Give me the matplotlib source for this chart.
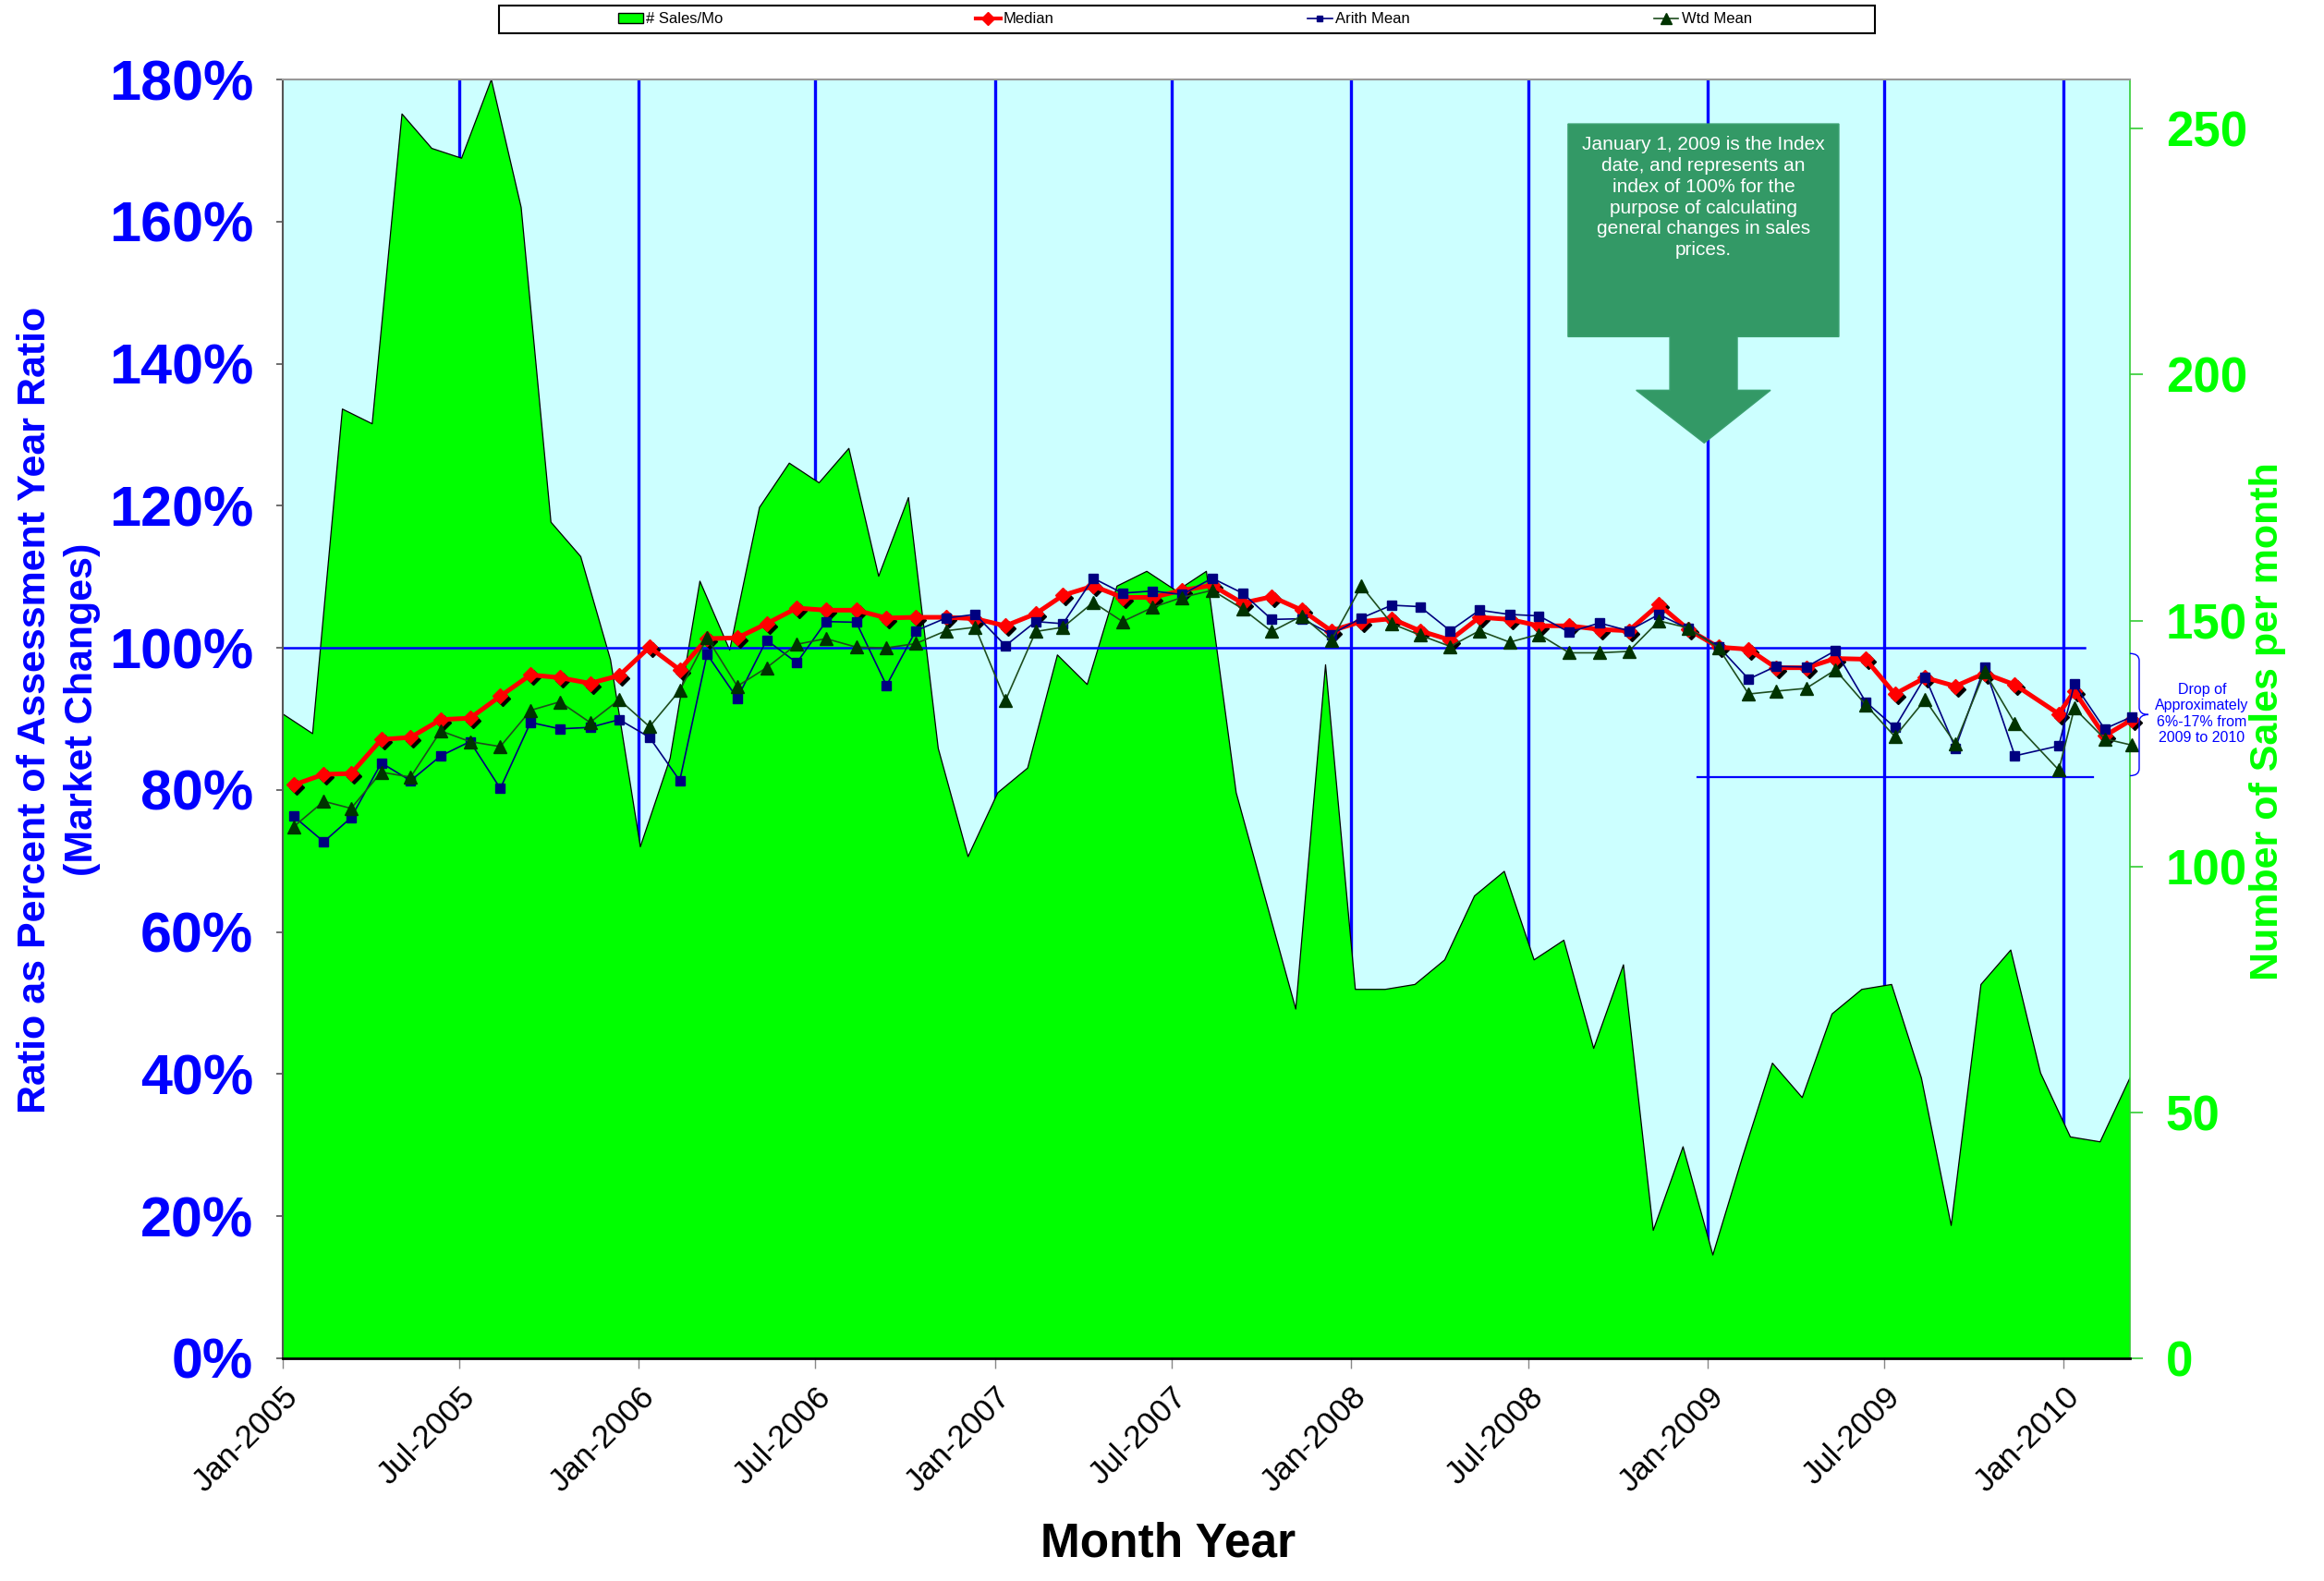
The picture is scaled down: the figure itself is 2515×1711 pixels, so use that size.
import numpy as np
import pandas as pd
import matplotlib
matplotlib.use('Agg')
import matplotlib.pyplot as plt
import matplotlib.dates as mdates
import matplotlib.transforms as mtransforms
from matplotlib.patches import Polygon, PathPatch, Rectangle, Patch
from matplotlib.path import Path
from matplotlib.lines import Line2D
from matplotlib.ticker import FuncFormatter

plt.rcParams['font.family'] = ['Liberation Sans', 'DejaVu Sans']

# number of sales per month, Jan-2005 .. Mar-2010
sales_per_month = [131, 127, 193, 190, 253, 246, 244, 260, 234, 170,
                   163, 142, 104, 122, 158, 144, 173, 182, 178, 185,
                   159, 175, 124, 102, 115, 120, 143, 137, 157, 160,
                   156, 160, 115, 93, 71, 141, 75, 75, 76, 81,
                   94, 99, 81, 85, 63, 80, 26, 43, 21, 41,
                   60, 53, 70, 75, 76, 57, 27, 76, 83, 58,
                   45, 44, 57]

# ratio as percent of assessment year ratio
median_ratio = [80.7, 82.2, 82.3, 87.1, 87.4, 89.9, 90.1, 93.2, 96.2, 95.8,
                95.0, 96.1, 100.1, 96.9, 101.3, 101.4, 103.4, 105.6, 105.3, 105.3,
                104.2, 104.3, 104.3, 104.1, 103.1, 104.8, 107.4, 108.7, 107.1, 107.1,
                108.1, 108.8, 106.3, 107.2, 105.3, 102.4, 103.7, 104.1, 102.4, 101.1,
                104.3, 104.0, 103.1, 103.1, 102.6, 102.4, 106.1, 102.6, 100.1, 99.8,
                97.2, 97.2, 98.5, 98.4, 93.5, 95.8, 94.6, 96.4, 94.8, 90.7,
                93.9, 87.6, 89.9]

arith_mean_ratio = [76.3, 72.7, 76.1, 83.8, 81.3, 84.8, 86.8, 80.2, 89.5, 88.6,
                    88.8, 89.9, 87.4, 81.3, 99.1, 92.9, 101.1, 97.9, 103.7, 103.6,
                    94.7, 102.4, 104.2, 104.7, 100.3, 103.7, 103.4, 109.8, 107.7, 108.0,
                    107.5, 109.8, 107.7, 104.0, 104.1, 101.9, 104.2, 106.0, 105.8, 102.4,
                    105.3, 104.7, 104.5, 102.2, 103.5, 102.4, 104.7, 102.7, 100.2, 95.6,
                    97.4, 97.3, 99.6, 92.4, 88.8, 95.9, 85.9, 97.3, 84.8, 86.2,
                    94.9, 88.6, 90.3]

wtd_mean_ratio = [74.8, 78.4, 77.4, 82.5, 81.8, 88.3, 86.8, 86.1, 91.2, 92.4,
                  89.5, 92.7, 88.9, 94.0, 101.4, 94.6, 97.2, 100.5, 101.3, 100.1,
                  100.0, 100.6, 102.4, 102.9, 92.6, 102.3, 102.9, 106.4, 103.7, 105.7,
                  107.1, 108.1, 105.5, 102.3, 104.5, 101.0, 108.7, 103.4, 101.8, 100.2,
                  102.4, 100.8, 101.9, 99.3, 99.3, 99.5, 103.8, 102.8, 100.0, 93.5,
                  93.9, 94.3, 96.9, 92.0, 87.5, 92.7, 86.5, 96.6, 89.4, 82.8,
                  91.5, 87.2, 86.3]

# reporting date of each month (the Dec-2009 batch closed late in the month)
report_dates = [d + pd.Timedelta(days=11) for d in pd.date_range('2005-01-01', periods=63, freq='MS')]
report_dates[59] = pd.Timestamp('2009-12-27')

period_start = pd.Timestamp('2005-01-01')
period_end = pd.Timestamp('2010-03-10')
index_date = pd.Timestamp('2009-01-01')
index_level = 100
drop_floor = 81.8


def dnum(d):
    return mdates.date2num(pd.Timestamp(d).to_pydatetime())


x_dates = mdates.date2num([d.to_pydatetime() for d in report_dates])
x0 = dnum(period_start)
x1 = dnum(period_end)
area_x = np.linspace(x0, x1, len(sales_per_month))

fig = plt.figure(figsize=(25.15, 17.11), dpi=100)
ax1 = fig.add_axes([0.1217, 0.1409, 0.7948, 0.8088])
ax2 = ax1.twinx()
ax1.set_zorder(2)
ax2.set_zorder(1)
ax1.patch.set_visible(False)
ax2.patch.set_visible(True)
ax2.set_facecolor('#ccffff')

# half-year gridlines sit behind the sales area
for d in pd.date_range('2005-07-01', '2010-01-01', freq='6MS'):
    ax2.axvline(dnum(d), color='#0000ff', lw=2.4, zorder=0.5)

# sales area on right axis
ax2.fill_between(area_x, sales_per_month, 0, facecolor='#00ff00', edgecolor='none', zorder=1)
ax2.plot(area_x, sales_per_month, color='black', lw=0.9, zorder=1.5)
ax2.set_ylim(0, 260)
ax2.set_yticks(np.arange(0, 251, 50))

# index and drop reference lines
ax1.plot([x0, dnum('2010-01-23')], [index_level, index_level], color='#0000ff', lw=1.8, zorder=1)
ax1.plot([dnum('2008-12-22'), dnum('2010-01-31')], [drop_floor, drop_floor],
         color='#0000ff', lw=1.6, zorder=1)

# ratio lines
shadow = ax1.transData + mtransforms.ScaledTranslation(0.03, -0.03, fig.dpi_scale_trans)
ax1.plot(x_dates, median_ratio, ls='none', marker='D', ms=8.5, color='black',
         transform=shadow, zorder=3, clip_on=False)
ax1.plot(x_dates, median_ratio, color='#ff0000', lw=3.6, marker='D', ms=8.5,
         mec='#ff0000', zorder=4, clip_on=False)
ax1.plot(x_dates, arith_mean_ratio, color='#000080', lw=1.2, marker='s', ms=6.5,
         zorder=5, clip_on=False)
ax1.plot(x_dates, wtd_mean_ratio, color='#1e4d1e', lw=1.2, marker='^', ms=10,
         mfc='#003300', mec='#003300', zorder=6, clip_on=False)

ax1.set_xlim(x0, x1)
ax1.set_ylim(0, 180)
ax1.set_yticks(np.arange(0, 181, 20))
ax1.yaxis.set_major_formatter(FuncFormatter(lambda v, p: '%d%%' % v))
ax1.xaxis.set_major_locator(mdates.MonthLocator(bymonth=[1, 7]))
ax1.xaxis.set_major_formatter(mdates.DateFormatter('%b-%Y'))

ax1.tick_params(axis='y', direction='out', length=5, width=1.2, color='#555555',
                labelsize=44, labelcolor='#0000ff', pad=18)
ax1.tick_params(axis='x', direction='out', length=8, width=1, color='#888888',
                labelsize=25, pad=10)
ax2.tick_params(axis='y', direction='out', length=10, width=1.2, color='#33cc33',
                labelsize=38, labelcolor='#00ff00', pad=18)
plt.setp(ax1.get_yticklabels(), fontweight='bold')
plt.setp(ax2.get_yticklabels(), fontweight='bold')
plt.setp(ax1.get_xticklabels(), rotation=45, ha='right', va='top', rotation_mode='anchor')

for side in ['left', 'right', 'top', 'bottom']:
    ax2.spines[side].set_visible(False)
ax2.spines['right'].set_visible(True)
ax2.spines['right'].set_color('#33cc33')
ax2.spines['right'].set_linewidth(1.2)
ax1.spines['right'].set_visible(False)
ax1.spines['left'].set_color('#555555')
ax1.spines['left'].set_linewidth(1.5)
ax1.spines['top'].set_color('#999999')
ax1.spines['top'].set_linewidth(1.5)
ax1.spines['bottom'].set_color('black')
ax1.spines['bottom'].set_linewidth(2)

# axis titles
fig.text(0.0254, 0.551, 'Ratio as Percent of Assessment Year Ratio\n(Market Changes)',
         rotation=90, color='#0000ff', fontsize=31, fontweight='bold',
         ha='center', va='center', multialignment='center', linespacing=1.35)
fig.text(0.9757, 0.5435, 'Number of Sales per month', rotation=90, color='#00ff00',
         fontsize=31, fontweight='bold', ha='center', va='center')
fig.text(0.5026, 0.0234, 'Month Year', color='black', fontsize=37, fontweight='bold',
         ha='center', va='center')

# index date callout
callout = Polygon([(0.6958, 0.9653), (0.8424, 0.9653), (0.8424, 0.7989), (0.7874, 0.7989),
                   (0.7874, 0.7570), (0.8054, 0.7570), (0.7695, 0.7158), (0.7327, 0.7570),
                   (0.7509, 0.7570), (0.7509, 0.7989), (0.6958, 0.7989)],
                  closed=True, transform=ax1.transAxes, facecolor='#339966',
                  edgecolor='#3aa070', lw=1, zorder=8)
ax1.add_patch(callout)
ax1.text(0.7691, 0.9077,
         'January 1, 2009 is the Index\ndate, and represents an\nindex of 100% for the\n'
         'purpose of calculating\ngeneral changes in sales\nprices.',
         transform=ax1.transAxes, color='white', fontsize=15, ha='center', va='center',
         linespacing=1.25, zorder=9)

# brace for the drop
bt = mtransforms.blended_transform_factory(ax1.transAxes, ax1.transData)
brace = Path([(1.000, 99.2), (1.005, 99.2), (1.005, 98.2), (1.005, 91.6),
              (1.005, 90.6), (1.010, 90.6), (1.005, 90.6), (1.005, 89.6),
              (1.005, 83.0), (1.005, 82.0), (1.000, 82.0)],
             [Path.MOVETO, Path.CURVE3, Path.CURVE3, Path.LINETO,
              Path.CURVE3, Path.CURVE3, Path.CURVE3, Path.CURVE3,
              Path.LINETO, Path.CURVE3, Path.CURVE3])
ax1.add_patch(PathPatch(brace, transform=bt, facecolor='none', edgecolor='#0000ff',
                        lw=1, clip_on=False, zorder=9))
ax1.text(1.039, 90.7, 'Drop of\nApproximately\n6%-17% from\n2009 to 2010', transform=bt,
         color='#0000ff', fontsize=11.5, ha='center', va='center', linespacing=1.2,
         clip_on=False)

# legend across the top
handles = [Patch(facecolor='#00ff00', edgecolor='black', label='# Sales/Mo'),
           Line2D([], [], color='#ff0000', lw=3, marker='D', ms=7, label='Median'),
           Line2D([], [], color='#000080', lw=1.2, marker='s', ms=5, label='Arith Mean'),
           Line2D([], [], color='#1e4d1e', lw=1.2, marker='^', ms=8, mfc='#003300',
                  mec='#003300', label='Wtd Mean')]
box_x, box_w, box_y, box_h = 0.2147, 0.5920, 0.9790, 0.0175
fig.patches.append(Rectangle((box_x, box_y), box_w, box_h, transform=fig.transFigure,
                             fill=False, edgecolor='black', lw=1.5))
for k, h in enumerate(handles):
    fig.legend(handles=[h], loc='center',
               bbox_to_anchor=(box_x + box_w * (k + 0.5) / 4, box_y + box_h / 2),
               frameon=False, fontsize=12, handlelength=1.6, handletextpad=0.2,
               borderpad=0, borderaxespad=0)

fig.savefig('out.png', dpi=100)
